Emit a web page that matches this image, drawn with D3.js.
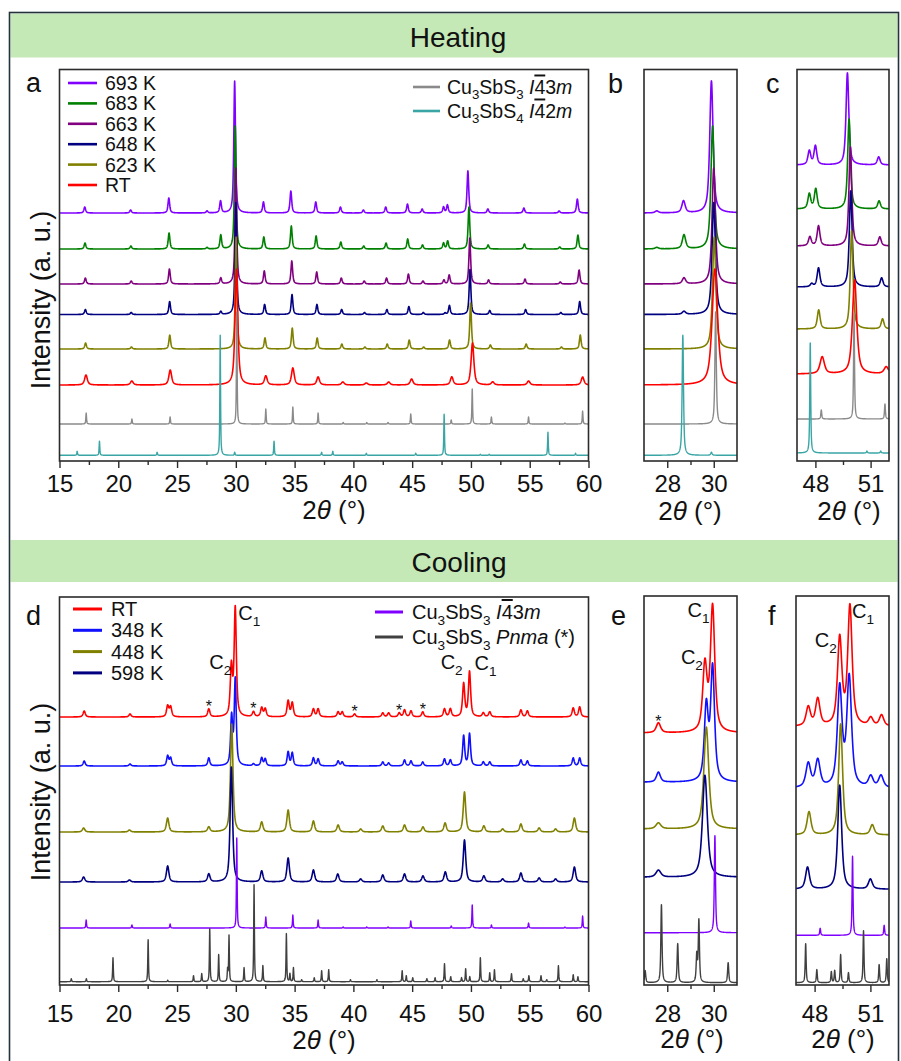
<!DOCTYPE html>
<html>
<head>
<meta charset="utf-8">
<script src="https://cdn.jsdelivr.net/npm/d3@7/dist/d3.min.js"></script>
<style>
html,body{margin:0;padding:0;background:#fff;}
svg{display:block;}
</style>
</head>
<body>
<svg id="fig" width="901" height="1061" xmlns="http://www.w3.org/2000/svg"></svg>
<script>
// ================= DATA (2θ in degrees, intensity in arbitrary units) =================
const heatLabels = ["693 K", "683 K", "663 K", "648 K", "623 K", "RT"];
const coolLabels = ["RT", "348 K", "448 K", "598 K"];
const xTicksWide = [15, 20, 25, 30, 35, 40, 45, 50, 55, 60];
const xMinorWide = [17.5, 22.5, 27.5, 32.5, 37.5, 42.5, 47.5, 52.5, 57.5];
const xTicksNarrowLow = [28, 30];
const xMinorNarrowLow = [29];
const xTicksNarrowHigh = [48, 51];
const xMinorNarrowHigh = [49.5];

// ---- Heating: panels a and b, peaks [2θ, height] ----
const peaks693 = [[17.15,6],[21.05,3],[24.3,15],[27.55,2],[28.7,12],[29.9,132],[32.35,11],[34.68,22],[36.8,11],[38.9,6],[40.85,3],[42.75,6],[44.6,9],[45.85,4],[47.67,6],[48.0,8],[49.74,42],[51.44,4],[54.5,5],[57.5,2],[59.05,14]];
const peaks683 = [[17.17,6],[21.07,3],[24.32,16],[27.55,1.5],[28.72,14],[29.95,123],[32.38,12],[34.72,23],[36.83,13],[38.93,7],[40.88,3],[42.78,6],[44.62,10],[45.88,4],[47.67,6],[48.02,8],[49.83,42],[51.46,4],[54.55,5],[57.55,2],[59.1,14]];
const peaks663 = [[17.2,6],[21.1,3],[24.35,15],[28.72,6],[30.0,116],[32.42,13],[34.76,23],[36.88,12],[38.97,6],[40.92,3],[42.82,6],[44.68,10],[45.92,3],[47.7,4],[48.15,9],[49.9,46],[51.5,4],[54.6,5],[57.6,2],[59.2,14]];
const peaks648 = [[17.2,5],[21.1,2],[24.37,13],[28.72,3],[30.0,112],[32.45,10],[34.78,20],[36.9,10],[39.0,5],[40.95,2],[42.85,5],[44.72,8],[45.95,2],[47.8,1.5],[48.17,9],[49.92,45],[51.6,4],[54.65,5],[57.65,2],[59.25,13]];
const peaks623 = [[17.22,6],[21.12,2],[24.38,14],[30.02,112],[32.48,11],[34.8,21],[36.92,11],[39.02,5],[40.98,2],[42.88,5],[44.75,9],[45.98,2],[48.18,9],[49.97,46],[51.65,4],[54.7,5],[57.7,2],[59.3,14]];
const peaksRTheat = [[17.25,10],[21.15,4],[24.42,15],[30.05,116],[32.55,9],[34.85,17],[37.0,8],[39.1,3],[41.1,2],[43.0,3],[44.95,6],[48.37,8],[50.13,42],[51.85,3],[54.9,4],[59.5,8]];
const refCubic = [[17.27,11],[21.16,5],[24.41,7],[30.08,112],[32.55,15],[34.85,17],[37.0,11],[39.13,1.5],[41.14,1.5],[42.95,1.5],[44.88,10],[48.32,4],[50.11,35],[51.74,7],[54.9,7],[58.0,1],[59.5,13]];
const refCu3SbS4 = [[16.5,4],[18.4,14],[23.3,3],[28.67,120],[29.9,3],[33.25,14],[37.3,3],[38.25,4],[41.1,2],[45.3,2],[47.72,41],[50.8,1],[51.55,1],[56.55,23],[58.9,2]];
const heatOffsets = [248, 212, 177, 146.5, 112, 76];
const heatRefOffsets = [37, 5.7];
const heatFwhm = [0.17, 0.17, 0.17, 0.17, 0.17, 0.28];
const refFwhm = 0.07;

// ---- Heating: panel c (47–52°) ----
const cPeaks693 = [[47.67,14],[48.0,19],[49.74,92],[51.44,8]];
const cPeaks683 = [[47.67,15],[48.02,20],[49.83,90],[51.46,8]];
const cPeaks663 = [[47.7,9],[48.17,20],[49.9,99],[51.5,9]];
const cPeaks648 = [[47.8,3],[48.17,19],[49.92,96],[51.6,9]];
const cPeaks623 = [[48.18,19],[49.97,98],[51.65,10]];
const cPeaksRT = [[48.37,17],[50.13,94],[51.85,7]];
const cRefCubic = [[48.32,9],[50.1,106],[51.78,15]];
const cRefCu3SbS4 = [[47.72,110],[50.8,2],[51.55,2]];
const cOffsets = [296, 252, 215, 174, 132, 87];
const cRefOffsets = [42, 8];
const cFwhm = [0.18, 0.18, 0.18, 0.18, 0.18, 0.28];

// ---- Cooling: panel d ----
const dPeaksRT = [[17.1,6],[21.0,3],[24.2,11],[24.45,10],[27.7,8],[29.62,49],[29.95,108],[31.5,5],[32.2,9],[32.5,8],[34.45,16],[34.8,14],[36.6,8],[37.0,8],[38.7,5],[39.05,5],[40.1,3],[42.5,4],[43.0,4],[43.9,4],[44.35,7],[44.9,6],[45.9,5],[47.75,8],[48.25,8],[49.38,33],[49.88,45],[51.05,4],[51.6,5],[54.25,7],[54.8,6],[58.7,9],[59.25,10]];
const dPeaks348 = [[17.1,5],[21.0,2],[24.2,10],[24.45,8],[27.7,8],[29.64,48],[29.95,86],[31.5,2],[32.2,8],[32.5,7],[34.45,14],[34.8,13],[36.6,8],[37.0,7],[38.7,5],[39.05,4],[42.5,4],[43.0,3],[44.35,6],[44.9,5],[45.9,4],[47.75,7],[48.25,6],[49.38,30],[49.88,32],[51.05,4],[51.6,4],[54.25,6],[54.8,5],[58.7,8],[59.25,8]];
const dPeaks448 = [[17.05,4],[20.95,2],[24.2,14],[27.7,5],[29.65,108],[32.2,10],[34.45,22],[36.6,11],[38.7,7],[40.62,3],[42.5,6],[44.35,7],[45.92,5],[47.8,9],[49.45,40],[51.1,6],[52.7,3],[54.25,8],[55.8,4],[57.2,3],[58.8,14]];
const dPeaks598 = [[17.05,5],[20.95,2],[24.2,16],[27.7,8],[29.62,115],[32.2,11],[34.45,24],[36.6,12],[38.67,8],[40.62,3],[42.5,7],[44.35,8],[45.92,6],[47.82,10],[49.45,42],[51.1,6],[52.7,3],[54.25,9],[55.8,4],[57.2,3],[58.8,15]];
const dRefCubic = [[17.27,8],[21.16,3],[24.41,4],[30.08,90],[32.55,11],[34.85,13],[37.0,8],[39.13,1],[41.14,1],[42.95,1],[44.88,7],[48.32,2],[50.11,23],[51.74,3],[54.9,5],[58.0,1],[59.5,12]];
const dRefPnma = [[16.0,3],[17.28,3],[19.55,24],[22.54,42],[24.2,1.5],[26.4,6],[27.1,8],[27.78,53],[28.54,27],[29.3,12],[29.42,46],[30.7,14],[31.55,97],[32.3,16],[34.3,48],[34.6,8],[34.9,14],[35.6,2],[36.67,4],[37.3,11],[37.9,12],[39.75,2],[42.0,2],[44.15,11],[44.5,6],[45.05,4],[46.25,3],[46.95,4],[47.75,18],[48.28,5],[49.2,4],[49.55,13],[49.9,5],[50.8,24],[51.6,9],[52.0,12],[53.45,8],[54.45,3],[54.93,6],[55.96,6],[56.45,2],[57.44,16],[58.7,7],[59.1,5]];
const dOffsets = [268, 219, 153, 103];
const dRefOffsets = [57, 3.3];
const coolFwhm = [0.22, 0.2, 0.25, 0.25];
const starPositions = [27.7, 31.5, 40.1, 43.9, 45.9];

// ---- Cooling: panel e (27–31°) ----
const ePeaksRT = [[27.62,10],[29.62,66],[29.95,125]];
const ePeaks348 = [[27.62,10],[29.68,74],[29.95,113]];
const ePeaks448 = [[27.62,6],[29.68,102]];
const ePeaks598 = [[27.62,7],[29.62,102]];
const eRefCubic = [[30.05,97]];
const eRefPnma = [[27.05,12],[27.75,78],[28.45,39],[29.27,27],[29.36,62],[30.62,20]];
const eOffsets = [252, 202.7, 156, 107.7];
const eRefOffsets = [52.3, 2.3];
const eFwhm = [0.22, 0.2, 0.25, 0.25];

// ---- Cooling: panel f (47–52°) ----
const fPeaksRT = [[47.66,19],[48.17,27],[49.35,87],[49.9,119],[51.02,8],[51.6,11]];
const fPeaks348 = [[47.66,24],[48.17,27],[49.35,99],[49.86,109],[51.02,11],[51.57,12]];
const fPeaks448 = [[47.7,23],[49.4,111],[51.1,10]];
const fPeaks598 = [[47.62,22],[49.35,104],[51.0,10]];
const fRefCubic = [[48.3,7],[50.04,79],[51.74,10]];
const fRefPnma = [[47.52,39],[48.12,13],[48.9,11],[49.08,12],[49.4,28],[49.82,10],[50.63,52],[51.47,18],[51.88,24]];
const fOffsets = [258.3, 196.7, 150, 95.7];
const fRefOffsets = [49.7, 2.3];
const fFwhm = [0.28, 0.3, 0.25, 0.25];

// ================= STYLES =================
const heatColors = ["#8000ff", "#008000", "#800080", "#000080", "#808000", "#ff0000"];
const heatRefColors = ["#8a8a8a", "#3aa5a5"];
const coolColors = ["#ff0000", "#1010ff", "#808000", "#000080"];
const coolRefColors = ["#8000ff", "#404040"];
const FF = '"Liberation Sans", Arial, Helvetica, sans-serif';
const INK = "#111";
const FRAME = "#2b2b2b";

const svg = d3.select("#fig").attr("font-family", FF);
svg.append("rect").attr("width", 901).attr("height", 1061).attr("fill", "#fff");

// ---------- profile helpers ----------
const ETA = 0.7;
function pv(x, c, h, w) {
  const t = (x - c) / (w / 2);
  return h * (ETA / (1 + t * t) + (1 - ETA) * Math.exp(-Math.LN2 * t * t));
}
function intensity(peaks, w, x) {
  let s = 0;
  for (const p of peaks) s += pv(x, p[0], p[1], w);
  return s;
}
function sampleX(dom, n, peaks) {
  const xs = [];
  for (let i = 0; i <= n; i++) xs.push(dom[0] + (dom[1] - dom[0]) * i / n);
  for (const p of peaks) if (p[0] > dom[0] && p[0] < dom[1]) xs.push(p[0]);
  return xs.sort((a, b) => a - b);
}

// ---------- frame & headings ----------
svg.append("rect").attr("x", 10.5).attr("y", 13.5).attr("width", 887).attr("height", 44).attr("fill", "#c4e8b6");
svg.append("rect").attr("x", 10.5).attr("y", 540).attr("width", 887).attr("height", 42).attr("fill", "#c4e8b6");
svg.append("rect").attr("x", 9.5).attr("y", 12.5).attr("width", 889).attr("height", 1070)
  .attr("fill", "none").attr("stroke", "#24323e").attr("stroke-width", 1.6);
svg.append("text").attr("x", 458).attr("y", 47).attr("text-anchor", "middle").attr("font-size", 28).attr("fill", INK).text("Heating");
svg.append("text").attr("x", 459).attr("y", 572).attr("text-anchor", "middle").attr("font-size", 28).attr("fill", INK).text("Cooling");

// ---------- panel drawing ----------
let clipCount = 0;
function drawPanel(cfg) {
  const x = d3.scaleLinear().domain(cfg.dom).range([cfg.left, cfg.right]);
  const y = d3.scaleLinear().domain([0, cfg.bottom - cfg.top]).range([cfg.bottom, cfg.top]);
  const id = "clip" + (clipCount++);
  svg.append("defs").append("clipPath").attr("id", id).append("rect")
    .attr("x", cfg.left).attr("y", cfg.top).attr("width", cfg.right - cfg.left).attr("height", cfg.bottom - cfg.top);
  const g = svg.append("g").attr("clip-path", `url(#${id})`);
  const line = d3.line().x(d => x(d[0])).y(d => y(d[1]));
  const curves = [];
  cfg.series.forEach(s => {
    const xs = sampleX(cfg.dom, cfg.n, s.peaks);
    const pts = xs.map(v => [v, s.offset + intensity(s.peaks, s.fwhm, v)]);
    g.append("path").attr("d", line(pts)).attr("fill", "none")
      .attr("stroke", s.color).attr("stroke-width", s.sw || 1.6)
      .attr("stroke-linejoin", "round");
    curves.push(v => s.offset + intensity(s.peaks, s.fwhm, v));
  });
  svg.append("rect").attr("x", cfg.left).attr("y", cfg.top)
    .attr("width", cfg.right - cfg.left).attr("height", cfg.bottom - cfg.top)
    .attr("fill", "none").attr("stroke", FRAME).attr("stroke-width", 1.6);
  const ax = svg.append("g").attr("transform", `translate(0,${cfg.bottom})`)
    .call(d3.axisBottom(x).tickValues(cfg.major).tickSize(7).tickFormat(d3.format("d")));
  ax.select(".domain").remove();
  ax.selectAll(".tick line").attr("stroke", FRAME).attr("stroke-width", 1.4);
  ax.selectAll(".tick text").attr("y", cfg.labelY).attr("dy", null)
    .attr("font-size", 24).attr("font-family", FF).attr("fill", INK);
  const axm = svg.append("g").attr("transform", `translate(0,${cfg.bottom})`)
    .call(d3.axisBottom(x).tickValues(cfg.minor).tickSize(4).tickFormat(""));
  axm.select(".domain").remove();
  axm.selectAll(".tick line").attr("stroke", FRAME).attr("stroke-width", 1.4);
  const t = svg.append("text").attr("x", cfg.xlabX).attr("y", cfg.xlabY)
    .attr("text-anchor", "middle").attr("font-size", 26).attr("fill", INK);
  t.append("tspan").text("2");
  t.append("tspan").attr("font-style", "italic").text("θ");
  t.append("tspan").text(" (°)");
  svg.append("text").attr("x", cfg.letterX).attr("y", cfg.letterY).attr("font-size", 27).attr("fill", INK).text(cfg.letter);
  return { x, y, curves };
}

function buildSeries(peakSets, offsets, fwhms, colors, refSets, refOffsets, refColors, rFwhm) {
  const s = peakSets.map((p, i) => ({ peaks: p, offset: offsets[i], fwhm: fwhms[i], color: colors[i], sw: 1.6 }));
  refSets.forEach((p, i) => s.push({ peaks: p, offset: refOffsets[i], fwhm: rFwhm, color: refColors[i], sw: 1.4 }));
  return s;
}

function rich(textSel, parts, fs) {
  let down = false;
  parts.forEach(([str, st]) => {
    const ts = textSel.append("tspan").text(str);
    if (st === "sub") {
      ts.attr("dy", fs * 0.3).attr("font-size", fs * 0.68);
      down = true;
    } else {
      if (down) { ts.attr("dy", -fs * 0.3); down = false; }
      if (st === "it") ts.attr("font-style", "italic");
      if (st === "ovl") ts.style("text-decoration", "overline");
    }
  });
}

function yLabel(cy) {
  svg.append("text").attr("transform", `translate(50,${cy}) rotate(-90)`)
    .attr("text-anchor", "middle").attr("font-size", 27).attr("fill", INK).text("Intensity (a. u.)");
}

// ================= HEATING =================
const heatSets = [peaks693, peaks683, peaks663, peaks648, peaks623, peaksRTheat];
const heatSeries = buildSeries(heatSets, heatOffsets, heatFwhm, heatColors,
  [refCubic, refCu3SbS4], heatRefOffsets, heatRefColors, refFwhm);

drawPanel({ left: 59.5, right: 588.5, top: 69.5, bottom: 461, dom: [15, 60], n: 2600,
  series: heatSeries, major: xTicksWide, minor: xMinorWide, labelY: 30.5,
  xlabX: 334, xlabY: 519, letter: "a", letterX: 26, letterY: 92 });
drawPanel({ left: 644, right: 737, top: 69.5, bottom: 461, dom: [27, 31], n: 900,
  series: heatSeries, major: xTicksNarrowLow, minor: xMinorNarrowLow, labelY: 31,
  xlabX: 690, xlabY: 520, letter: "b", letterX: 608, letterY: 92.5 });
const cSets = [cPeaks693, cPeaks683, cPeaks663, cPeaks648, cPeaks623, cPeaksRT];
drawPanel({ left: 797, right: 889, top: 69.5, bottom: 461, dom: [47, 52], n: 900,
  series: buildSeries(cSets, cOffsets, cFwhm, heatColors, [cRefCubic, cRefCu3SbS4], cRefOffsets, heatRefColors, 0.06),
  major: xTicksNarrowHigh, minor: xMinorNarrowHigh, labelY: 31,
  xlabX: 849, xlabY: 520, letter: "c", letterX: 766, letterY: 92.5 });
yLabel(300);

// heating legends
heatLabels.forEach((lab, i) => {
  const yc = 83 + 20.4 * i;
  svg.append("line").attr("x1", 68).attr("x2", 97).attr("y1", yc).attr("y2", yc)
    .attr("stroke", heatColors[i]).attr("stroke-width", 2.6);
  svg.append("text").attr("x", 105).attr("y", yc + 7).attr("font-size", 19.5).attr("fill", INK).text(lab);
});
const heatRefLegend = [
  [["Cu"], ["3", "sub"], ["SbS"], ["3", "sub"], [" "], ["I", "it"], ["4", "ovl"], ["3"], ["m", "it"]],
  [["Cu"], ["3", "sub"], ["SbS"], ["4", "sub"], [" "], ["I", "it"], ["4", "ovl"], ["2"], ["m", "it"]]
];
heatRefLegend.forEach((parts, i) => {
  const yc = 87 + 24 * i;
  svg.append("line").attr("x1", 413).attr("x2", 440).attr("y1", yc).attr("y2", yc)
    .attr("stroke", heatRefColors[i]).attr("stroke-width", 2.6);
  const t = svg.append("text").attr("x", 447).attr("y", yc + 6.5).attr("font-size", 19.5).attr("fill", INK);
  rich(t, parts, 19.5);
});

// ================= COOLING =================
const dSets = [dPeaksRT, dPeaks348, dPeaks448, dPeaks598];
const pd = drawPanel({ left: 59.5, right: 588.5, top: 597, bottom: 985, dom: [15, 60], n: 2600,
  series: buildSeries(dSets, dOffsets, coolFwhm, coolColors, [dRefCubic, dRefPnma], dRefOffsets, coolRefColors, refFwhm),
  major: xTicksWide, minor: xMinorWide, labelY: 36.7,
  xlabX: 324, xlabY: 1049, letter: "d", letterX: 26, letterY: 625 });
const eSets = [ePeaksRT, ePeaks348, ePeaks448, ePeaks598];
const pe = drawPanel({ left: 644, right: 737, top: 596, bottom: 985, dom: [27, 31], n: 900,
  series: buildSeries(eSets, eOffsets, eFwhm, coolColors, [eRefCubic, eRefPnma], eRefOffsets, coolRefColors, 0.06),
  major: xTicksNarrowLow, minor: xMinorNarrowLow, labelY: 36.7,
  xlabX: 692, xlabY: 1048, letter: "e", letterX: 611, letterY: 625 });
const fSets = [fPeaksRT, fPeaks348, fPeaks448, fPeaks598];
const pf = drawPanel({ left: 796, right: 889, top: 596, bottom: 985, dom: [47, 52], n: 900,
  series: buildSeries(fSets, fOffsets, fFwhm, coolColors, [fRefCubic, fRefPnma], fRefOffsets, coolRefColors, 0.06),
  major: xTicksNarrowHigh, minor: xMinorNarrowHigh, labelY: 36.7,
  xlabX: 843, xlabY: 1048, letter: "f", letterX: 768, letterY: 625 });
yLabel(792);

// cooling legends
coolLabels.forEach((lab, i) => {
  const yc = 609 + 21.3 * i;
  svg.append("line").attr("x1", 73).attr("x2", 102).attr("y1", yc).attr("y2", yc)
    .attr("stroke", coolColors[i]).attr("stroke-width", 3);
  svg.append("text").attr("x", 111).attr("y", yc + 7).attr("font-size", 20).attr("fill", INK).text(lab);
});
const coolRefLegend = [
  [["Cu"], ["3", "sub"], ["SbS"], ["3", "sub"], [" "], ["I", "it"], ["4", "ovl"], ["3"], ["m", "it"]],
  [["Cu"], ["3", "sub"], ["SbS"], ["3", "sub"], [" "], ["Pnma", "it"], [" (*)"]]
];
coolRefLegend.forEach((parts, i) => {
  const yc = 612 + 25 * i;
  svg.append("line").attr("x1", 375).attr("x2", 403).attr("y1", yc).attr("y2", yc)
    .attr("stroke", coolRefColors[i]).attr("stroke-width", 3);
  const t = svg.append("text").attr("x", 412).attr("y", yc + 7).attr("font-size", 20).attr("fill", INK);
  rich(t, parts, 20);
});

// C labels and asterisks (anchored to the RT curve)
function cLabel(p, pos, sub, anchor, dx, dyTop) {
  const px = p.x(pos), py = p.y(p.curves[0](pos));
  const t = svg.append("text").attr("x", px + dx).attr("y", py + dyTop)
    .attr("text-anchor", anchor).attr("font-size", 20).attr("fill", INK);
  rich(t, [["C"], [sub, "sub"]], 20);
}
cLabel(pd, 29.95, "1", "start", 3, 15);
cLabel(pd, 29.62, "2", "end", 0, 9);
cLabel(pd, 49.38, "2", "end", -1, -13);
cLabel(pd, 49.88, "1", "start", 5, -1);
cLabel(pe, 29.95, "1", "end", -3, 14);
cLabel(pe, 29.62, "2", "end", -2, 6);
cLabel(pf, 49.9, "1", "start", 2, 14);
cLabel(pf, 49.35, "2", "end", -3, 13);

starPositions.forEach(pos => {
  svg.append("text").attr("x", pd.x(pos)).attr("y", pd.y(pd.curves[0](pos)) + 3)
    .attr("text-anchor", "middle").attr("font-size", 16).attr("fill", INK).text("*");
});
svg.append("text").attr("x", pe.x(27.62)).attr("y", pe.y(pe.curves[0](27.62)) + 4)
  .attr("text-anchor", "middle").attr("font-size", 16).attr("fill", INK).text("*");
</script>
</body>
</html>
